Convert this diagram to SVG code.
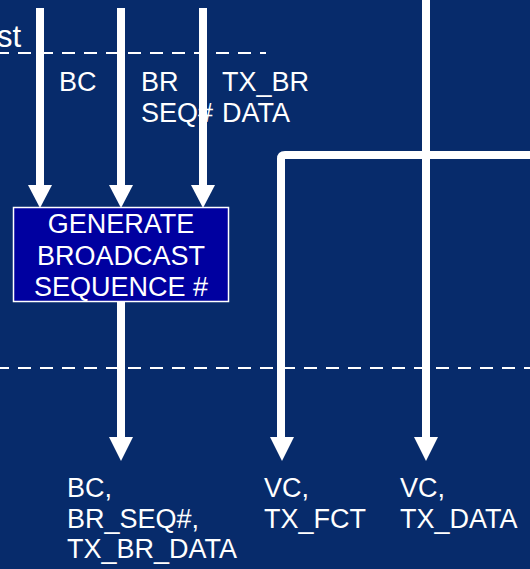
<svg xmlns="http://www.w3.org/2000/svg" width="530" height="569" viewBox="0 0 530 569">
  <defs>
    <style>
      .lbl { font-family: "Liberation Sans", Arial, sans-serif; font-size: 27px; fill: #ffffff; }
      .mid { text-anchor: middle; }
      .wire { stroke: #ffffff; stroke-width: 8; fill: none; }
      .dash { stroke: #ffffff; stroke-width: 2; stroke-dasharray: 13 9; fill: none; }
      .head { fill: #ffffff; }
    </style>
  </defs>

  <rect width="530" height="569" fill="#072B6B"/>

  <!-- section boundaries -->
  <g id="boundaries">
    <text class="lbl" x="-3" y="47" style="font-size:31px">st</text>
    <line class="dash" x1="-4" y1="53" x2="266" y2="53"/>
    <line class="dash" x1="-4" y1="368" x2="530" y2="368"/>
  </g>

  <!-- connectors -->
  <g id="connectors">
    <line class="wire" x1="40" y1="8" x2="40" y2="188"/>
    <polygon class="head" points="28,185 52,185 40,208"/>
    <line class="wire" x1="121" y1="8" x2="121" y2="188"/>
    <polygon class="head" points="109,185 133,185 121,208"/>
    <line class="wire" x1="203" y1="8" x2="203" y2="188"/>
    <polygon class="head" points="191,185 215,185 203,208"/>

    <line class="wire" x1="121" y1="301" x2="121" y2="440"/>
    <polygon class="head" points="109,437 133,437 121,461"/>

    <path class="wire" d="M530,155 H285 Q281,155 281,159 V440"/>
    <polygon class="head" points="270,437 294,437 282,461"/>

    <line class="wire" x1="426" y1="0" x2="426" y2="440"/>
    <polygon class="head" points="414,437 438,437 426,461"/>
  </g>

  <!-- input labels -->
  <g id="inputs">
    <text class="lbl" x="59" y="91">BC</text>
    <text class="lbl" x="141" y="91">BR</text>
    <text class="lbl" x="141" y="122">SEQ#</text>
    <text class="lbl" x="222" y="91">TX_BR</text>
    <text class="lbl" x="222" y="122">DATA</text>
  </g>

  <!-- process box -->
  <g id="generate-broadcast-seq">
    <rect x="13.5" y="207.5" width="215" height="94" fill="#0000A0" stroke="#ffffff" stroke-width="1.5"/>
    <text class="lbl mid" x="121" y="233">GENERATE</text>
    <text class="lbl mid" x="121" y="265">BROADCAST</text>
    <text class="lbl mid" x="121" y="296">SEQUENCE #</text>
  </g>

  <!-- outputs -->
  <g id="out-broadcast">
    <text class="lbl" x="67" y="497">BC,</text>
    <text class="lbl" x="67" y="528">BR_SEQ#,</text>
    <text class="lbl" x="67" y="558">TX_BR_DATA</text>
  </g>
  <g id="out-fct">
    <text class="lbl" x="264" y="497">VC,</text>
    <text class="lbl" x="264" y="528">TX_FCT</text>
  </g>
  <g id="out-data">
    <text class="lbl" x="400" y="497">VC,</text>
    <text class="lbl" x="400" y="528">TX_DATA</text>
  </g>
</svg>
